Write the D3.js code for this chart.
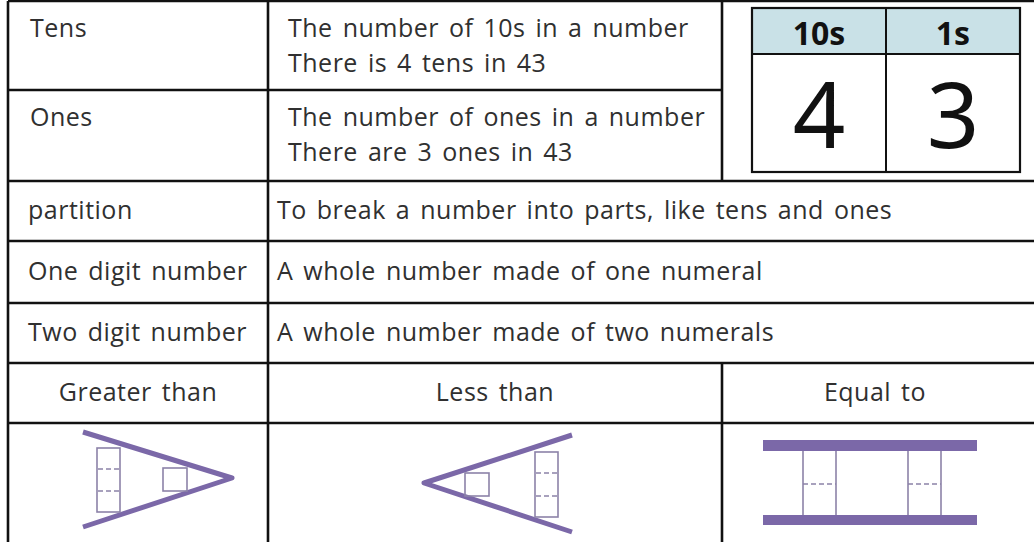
<!DOCTYPE html>
<html>
<head>
<meta charset="utf-8">
<script src="https://cdn.jsdelivr.net/npm/d3@7"></script>
<style>
  body { margin: 0; background: #fff; overflow: hidden; }
  svg { display: block; }
  .txt { font-family: "Open Sans", sans-serif; font-size: 25px; fill: #303030;
         letter-spacing: 0.5px; word-spacing: 3px; }
</style>
</head>
<body>
<svg width="1034" height="542"></svg>
<script>
// vocabulary rows
var terms = ['Tens', 'Ones', 'partition', 'One digit number', 'Two digit number'];
var definitions = [
  ['The number of 10s in a number', 'There is 4 tens in 43'],
  ['The number of ones in a number', 'There are 3 ones in 43'],
  ['To break a number into parts, like tens and ones'],
  ['A whole number made of one numeral'],
  ['A whole number made of two numerals']
];

// place value chart
var placeHeaders = ['10s', '1s'];
var placeDigits = ['4', '3'];

// comparison signs
var signs = ['Greater than', 'Less than', 'Equal to'];

// layout
var colX = [8, 268, 722, 1040];
var rowY = [1, 90, 181, 241, 303, 363, 423, 560];

var svg = d3.select('svg');
var purple = '#7b68a8';
var thin = '#8c82a8';

// text in the vocabulary rows
var textRows = svg.append('g');
terms.forEach(function(t, i) {
  var top = rowY[i], bottom = rowY[i + 1];
  var lines = definitions[i];
  var y0, x1, x2;
  if (lines.length > 1) {
    y0 = top + 36;
    x1 = 30; x2 = 288;
  } else {
    y0 = (top + bottom) / 2 + 8;
    x1 = 28; x2 = 277;
  }
  textRows.append('text').attr('class', 'txt')
    .attr('x', x1).attr('y', y0).text(t);
  lines.forEach(function(l, j) {
    textRows.append('text').attr('class', 'txt')
      .attr('x', x2).attr('y', y0 + j * 35).text(l);
  });
});

// comparison headings
svg.selectAll('.sign')
  .data(signs)
  .enter()
  .append('text')
  .attr('class', 'txt sign')
  .attr('text-anchor', 'middle')
  .attr('x', function(d, i) { return (colX[i] + Math.min(colX[i + 1], 1028)) / 2; })
  .attr('y', (rowY[5] + rowY[6]) / 2 + 8)
  .text(function(d) { return d; });

// place value box
var pv = { x0: 752, x1: 1020, y0: 8, yh: 54, y1: 172 };
var pvx = d3.scaleBand().domain(placeHeaders).range([pv.x0, pv.x1]);
var pvg = svg.append('g');
pvg.append('rect')
  .attr('x', pv.x0).attr('y', pv.y0)
  .attr('width', pv.x1 - pv.x0).attr('height', pv.yh - pv.y0)
  .style('fill', '#c9e1e7');
pvg.selectAll('.hdr')
  .data(placeHeaders)
  .enter()
  .append('text')
  .attr('class', 'hdr')
  .attr('x', function(d) { return pvx(d) + pvx.bandwidth() / 2; })
  .attr('y', 45)
  .attr('text-anchor', 'middle')
  .style('font-family', '"Noto Sans", sans-serif')
  .style('font-weight', 'bold')
  .style('font-size', '32px')
  .style('fill', '#111')
  .text(function(d) { return d; });
pvg.selectAll('.digit')
  .data(placeDigits)
  .enter()
  .append('text')
  .attr('class', 'digit')
  .attr('x', function(d, i) { return pvx(placeHeaders[i]) + pvx.bandwidth() / 2; })
  .attr('y', 148)
  .attr('text-anchor', 'middle')
  .style('font-family', '"Noto Sans", sans-serif')
  .style('font-size', '92px')
  .style('fill', '#111')
  .text(function(d) { return d; });
pvg.append('rect')
  .attr('x', pv.x0).attr('y', pv.y0)
  .attr('width', pv.x1 - pv.x0).attr('height', pv.y1 - pv.y0)
  .style('fill', 'none').style('stroke', '#111').style('stroke-width', 2.2);
pvg.append('line')
  .attr('x1', pv.x0).attr('x2', pv.x1).attr('y1', pv.yh).attr('y2', pv.yh)
  .style('stroke', '#111').style('stroke-width', 2);
pvg.append('line')
  .attr('x1', pvx(placeHeaders[1])).attr('x2', pvx(placeHeaders[1]))
  .attr('y1', pv.y0).attr('y2', pv.y1)
  .style('stroke', '#111').style('stroke-width', 2);

// pictures of the signs
var pics = svg.append('g');
function box(g, x, y, w, h, dashes) {
  g.append('rect').attr('x', x).attr('y', y).attr('width', w).attr('height', h)
    .style('fill', 'none').style('stroke', thin).style('stroke-width', 1.6);
  (dashes || []).forEach(function(dy) {
    g.append('line').attr('x1', x + 1).attr('x2', x + w - 1)
      .attr('y1', y + dy).attr('y2', y + dy)
      .style('stroke', thin).style('stroke-width', 1.6)
      .style('stroke-dasharray', '5,3');
  });
}

// greater than
var gt = pics.append('g');
gt.append('path')
  .attr('d', 'M83,432 L232,478 L83,527')
  .style('fill', 'none').style('stroke', purple)
  .style('stroke-width', 5).style('stroke-linejoin', 'round');
box(gt, 97, 448, 23, 64, [21, 43]);
box(gt, 163, 468, 24, 23);

// less than
var lt = pics.append('g');
lt.append('path')
  .attr('d', 'M572,435 L424,483 L572,532')
  .style('fill', 'none').style('stroke', purple)
  .style('stroke-width', 5).style('stroke-linejoin', 'round');
box(lt, 535, 452, 23, 65, [21, 44]);
box(lt, 465, 473, 24, 23);

// equal to
var eq = pics.append('g');
eq.append('rect').attr('x', 763).attr('y', 440).attr('width', 214).attr('height', 11)
  .style('fill', purple);
eq.append('rect').attr('x', 763).attr('y', 515).attr('width', 214).attr('height', 10)
  .style('fill', purple);
[803, 836, 908, 941].forEach(function(x) {
  eq.append('line').attr('x1', x).attr('x2', x).attr('y1', 451).attr('y2', 515)
    .style('stroke', thin).style('stroke-width', 1.6);
});
[[803, 836], [908, 941]].forEach(function(p) {
  eq.append('line').attr('x1', p[0]).attr('x2', p[1]).attr('y1', 484).attr('y2', 484)
    .style('stroke', thin).style('stroke-width', 1.6).style('stroke-dasharray', '5,3');
});

// grid lines
var grid = svg.append('g')
  .style('stroke', '#111').style('stroke-width', 2.6);
grid.append('line').attr('x1', colX[0]).attr('x2', colX[3]).attr('y1', rowY[0]).attr('y2', rowY[0]);
grid.append('line').attr('x1', colX[0]).attr('x2', colX[2]).attr('y1', rowY[1]).attr('y2', rowY[1]);
rowY.slice(2, 7).forEach(function(y) {
  grid.append('line').attr('x1', colX[0]).attr('x2', colX[3]).attr('y1', y).attr('y2', y);
});
grid.append('line').attr('x1', colX[0]).attr('x2', colX[0]).attr('y1', rowY[0]).attr('y2', rowY[7]);
grid.append('line').attr('x1', colX[1]).attr('x2', colX[1]).attr('y1', rowY[0]).attr('y2', rowY[7]);
grid.append('line').attr('x1', colX[2]).attr('x2', colX[2]).attr('y1', rowY[0]).attr('y2', rowY[2]);
grid.append('line').attr('x1', colX[2]).attr('x2', colX[2]).attr('y1', rowY[5]).attr('y2', rowY[7]);
</script>
</body>
</html>
